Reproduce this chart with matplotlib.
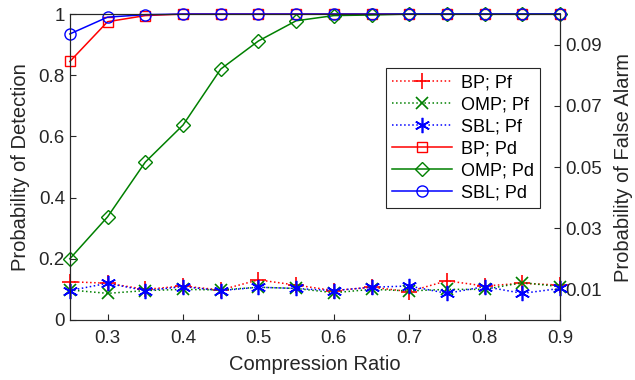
import matplotlib
matplotlib.use("Agg")
import matplotlib.pyplot as plt

plt.rcParams['font.family'] = ['Liberation Sans', 'DejaVu Sans']

ratio = [0.25, 0.3, 0.35, 0.4, 0.45, 0.5, 0.55, 0.6, 0.65, 0.7, 0.75, 0.8, 0.85, 0.9]

# probability of detection (left axis)
bp_pd = [0.845, 0.975, 0.995, 1, 1, 1, 1, 1, 1, 1, 1, 1, 1, 1]
omp_pd = [0.2, 0.337, 0.516, 0.637, 0.82, 0.912, 0.978, 0.995, 0.997, 1, 1, 1, 1, 1]
sbl_pd = [0.935, 0.99, 0.998, 1, 1, 1, 1, 1, 1, 1, 1, 1, 1, 1]

# probability of false alarm (right axis)
bp_pf = [0.0125, 0.012, 0.0100, 0.0111, 0.0098, 0.0131, 0.0114, 0.0096, 0.0107, 0.0093, 0.0128, 0.0111, 0.0120, 0.0114]
omp_pf = [0.0098, 0.0087, 0.0096, 0.0100, 0.0098, 0.0107, 0.0103, 0.0089, 0.0100, 0.0095, 0.0100, 0.0100, 0.0122, 0.0109]
sbl_pf = [0.0096, 0.0120, 0.0096, 0.0109, 0.0096, 0.0107, 0.0103, 0.0096, 0.0107, 0.0111, 0.0087, 0.0109, 0.0087, 0.0103]

xticks = [0.3, 0.4, 0.5, 0.6, 0.7, 0.8, 0.9]
left_ticks = [0, 0.2, 0.4, 0.6, 0.8, 1]
right_ticks = [0.01, 0.03, 0.05, 0.07, 0.09]

red = (1, 0, 0)
green = (0, 0.5, 0)
blue = (0, 0, 1)
dark = '#262626'

fig = plt.figure(figsize=(6.35, 3.8), dpi=100)
ax = fig.add_axes([0.110, 0.158, 0.772, 0.805])
ax2 = ax.twinx()

ms = 7.5
l4, = ax.plot(ratio, bp_pd, '-', color=red, marker='s', mfc='none', ms=ms, lw=1.1, clip_on=False, label='BP; Pd')
l5, = ax.plot(ratio, omp_pd, '-', color=green, marker='D', mfc='none', ms=ms, lw=1.1, clip_on=False, label='OMP; Pd')
l6, = ax.plot(ratio, sbl_pd, '-', color=blue, marker='o', mfc='none', ms=ms + 0.5, lw=1.1, clip_on=False, label='SBL; Pd')

l1, = ax2.plot(ratio, bp_pf, ':', color=red, marker='+', ms=11, mew=1.2, lw=1.1, clip_on=False, label='BP; Pf')
l2, = ax2.plot(ratio, omp_pf, ':', color=green, marker='x', ms=8.5, mew=1.2, lw=1.1, clip_on=False, label='OMP; Pf')
l3, = ax2.plot(ratio, sbl_pf, ':', color=blue, marker=(6, 2, 0), ms=11, mew=1.2, lw=1.1, clip_on=False, label='SBL; Pf')

ax.set_xlim(0.25, 0.9)
ax.set_ylim(0, 1)
ax2.set_ylim(0, 0.1)
ax.set_xticks(xticks)
ax.set_xticklabels([f"{t:g}" for t in xticks])
ax.set_yticks(left_ticks)
ax.set_yticklabels([f"{t:g}" for t in left_ticks])
ax2.set_yticks(right_ticks)
ax2.set_yticklabels([f"{t:g}" for t in right_ticks])

for a in (ax, ax2):
    a.tick_params(direction='in', length=4, width=0.8, labelsize=13.5, colors=dark)
    for s in a.spines.values():
        s.set_color(dark)
        s.set_linewidth(0.8)
ax.tick_params(axis='x', pad=7)

ax.set_xlabel('Compression Ratio', fontsize=14.5, color=dark, labelpad=6)
ax.set_ylabel('Probability of Detection', fontsize=14.5, color=dark, labelpad=6)
ax2.set_ylabel('Probability of False Alarm', fontsize=14.5, color=dark, labelpad=9)

leg = ax2.legend(handles=[l1, l2, l3, l4, l5, l6], loc='upper left',
                 bbox_to_anchor=(0.645, 0.824), borderaxespad=0, fontsize=13,
                 fancybox=False, framealpha=1, edgecolor=dark, handlelength=3.3,
                 borderpad=0.35, labelspacing=0.28, handletextpad=0.5)
leg.get_frame().set_linewidth(0.8)

fig.savefig('out.png', dpi=100)
